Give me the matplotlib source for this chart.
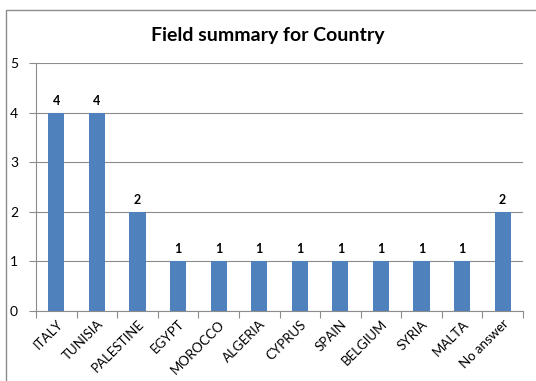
import matplotlib
matplotlib.use("Agg")
import matplotlib.pyplot as plt
from matplotlib.patches import Rectangle

countries = ["ITALY", "TUNISIA", "PALESTINE", "EGYPT", "MOROCCO", "ALGERIA",
             "CYPRUS", "SPAIN", "BELGIUM", "SYRIA", "MALTA", "No answer"]
counts = [4, 4, 2, 1, 1, 1, 1, 1, 1, 1, 1, 2]

plt.rcParams['font.family'] = ['Lato', 'DejaVu Sans']

fig = plt.figure(figsize=(5.36, 3.81), dpi=100)
ax = fig.add_axes([36 / 536, 1 - 311 / 381, 487 / 536, 248 / 381])

# chart-area frame: only top and left edges fall inside the image
frame = Rectangle((5.5 / 536, -0.1), 1.0, 1.1 - 9.5 / 381,
                  transform=fig.transFigure, fill=False,
                  edgecolor='#8c8c8c', lw=1)
fig.patches.append(frame)

x = range(len(countries))
ax.bar(x, counts, width=0.4, color='#4f81bd', zorder=3)
for xi, v in zip(x, counts):
    ax.text(xi, v + 0.12, str(v), ha='center', va='bottom',
            fontsize=9, fontweight='bold')

ax.set_xlim(-0.5, len(countries) - 0.5)
ax.set_ylim(0, 5)
ax.set_yticks(range(6))
ax.yaxis.grid(True, color='#8c8c8c', lw=0.8, zorder=0)
ax.set_axisbelow(True)

ax.set_xticks([i - 0.5 for i in range(len(countries) + 1)], minor=False)
ax.set_xticklabels([])
ax.set_xticks(list(x), minor=True)
ax.set_xticklabels(countries, minor=True, rotation=45, ha='right',
                   rotation_mode='anchor', fontsize=9.5)
ax.tick_params(axis='x', which='major', length=5, color='#8c8c8c', width=0.8)
ax.tick_params(axis='x', which='minor', length=0, pad=5)
ax.tick_params(axis='y', length=5, color='#8c8c8c', width=0.8, labelsize=10, pad=8)

for s in ['top', 'right']:
    ax.spines[s].set_visible(False)
for s in ['left', 'bottom']:
    ax.spines[s].set_color('#8c8c8c')
    ax.spines[s].set_linewidth(0.8)

fig.text(0.5, 1 - 35 / 381, "Field summary for Country", ha='center', va='center',
         fontsize=14, fontweight='bold')

fig.savefig("out.png", dpi=100)
